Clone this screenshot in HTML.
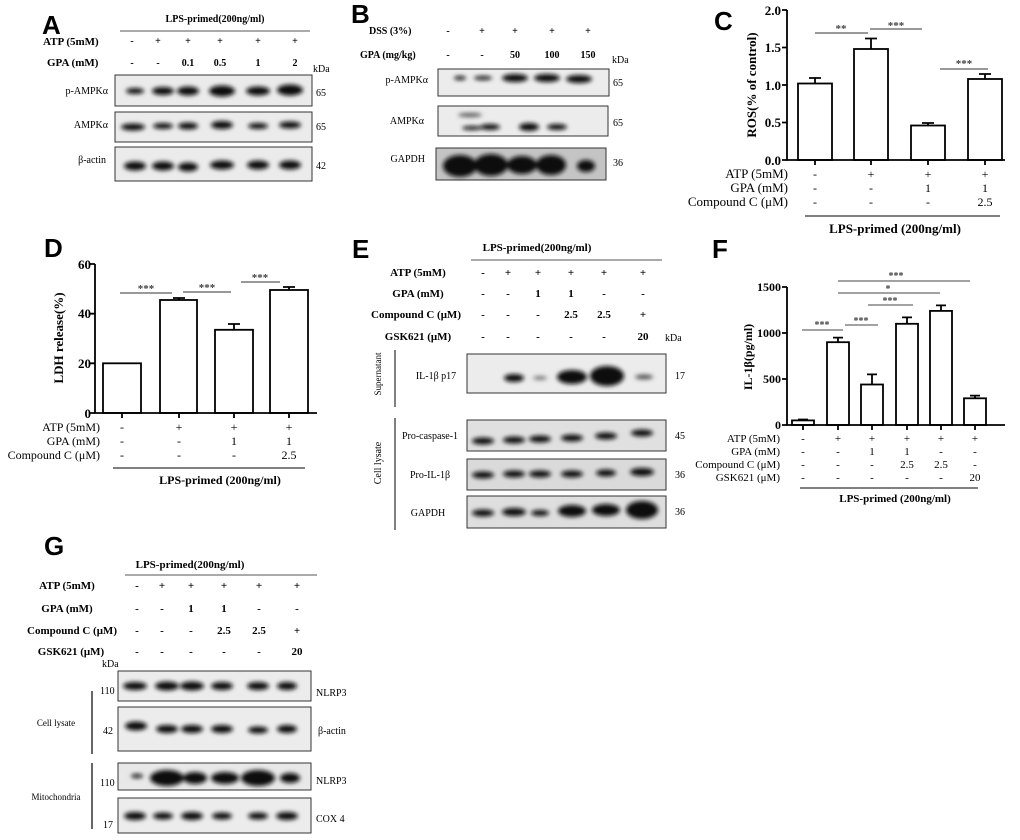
<!DOCTYPE html>
<html><head><meta charset="utf-8"><style>
html,body{margin:0;padding:0;background:#fff}
svg{display:block;font-family:"Liberation Serif",serif}
.b{font-weight:bold}
.h{font-family:"Liberation Sans",sans-serif;font-weight:bold;font-size:26px}
</style></head><body>
<svg width="1020" height="840" viewBox="0 0 1020 840" xmlns="http://www.w3.org/2000/svg">
<defs><filter id="bl" x="-50%" y="-100%" width="200%" height="300%"><feGaussianBlur stdDeviation="2"/></filter></defs>
<g fill="#000" font-size="10">
<!-- A -->
<text x="42" y="34" class="h">A</text>
<text x="215" y="22" text-anchor="middle" class="b">LPS-primed(200ng/ml)</text>
<line x1="120" y1="31" x2="310" y2="31" stroke="#555"/>
<text x="43" y="45" class="b" font-size="11">ATP (5mM)</text>
<text x="47" y="66" class="b" font-size="11">GPA (mM)</text>
<g text-anchor="middle" class="b"><text x="132" y="44">-</text><text x="158" y="44">+</text><text x="188" y="44">+</text><text x="220" y="44">+</text><text x="258" y="44">+</text><text x="295" y="44">+</text>
<text x="132" y="66">-</text><text x="158" y="66">-</text><text x="188" y="66">0.1</text><text x="220" y="66">0.5</text><text x="258" y="66">1</text><text x="295" y="66">2</text></g>
<text x="313" y="72">kDa</text>
<rect x="115" y="75" width="197" height="31" fill="#ebebeb" stroke="#333"/>
<rect x="115" y="112" width="197" height="30" fill="#ebebeb" stroke="#333"/>
<rect x="115" y="147" width="197" height="34" fill="#ebebeb" stroke="#333"/>
<g filter="url(#bl)" fill="#111">
<ellipse cx="135" cy="91" rx="9" ry="3"/><ellipse cx="163" cy="91" rx="11" ry="4"/><ellipse cx="188" cy="91" rx="11" ry="4.5"/><ellipse cx="222" cy="91" rx="13" ry="5.5"/><ellipse cx="258" cy="91" rx="12" ry="4.5"/><ellipse cx="290" cy="90" rx="13" ry="5.5"/>
<ellipse cx="133" cy="127" rx="12" ry="3.5"/><ellipse cx="163" cy="126" rx="10" ry="3"/><ellipse cx="188" cy="126" rx="10" ry="3.5"/><ellipse cx="222" cy="125" rx="11" ry="4"/><ellipse cx="258" cy="126" rx="10" ry="3"/><ellipse cx="290" cy="125" rx="11" ry="3.5"/>
<ellipse cx="135" cy="166" rx="11" ry="4.5"/><ellipse cx="163" cy="166" rx="11" ry="4.5"/><ellipse cx="188" cy="167" rx="10" ry="4.5"/><ellipse cx="222" cy="165" rx="12" ry="4.5"/><ellipse cx="258" cy="165" rx="11" ry="4.5"/><ellipse cx="290" cy="165" rx="11" ry="4.5"/></g>
<g text-anchor="end"><text x="108" y="94">p-AMPKα</text><text x="108" y="128">AMPKα</text><text x="106" y="163">β-actin</text></g>
<text x="316" y="96">65</text><text x="316" y="130">65</text><text x="316" y="169">42</text>
<!-- B -->
<text x="351" y="23" class="h">B</text>
<text x="369" y="34" class="b">DSS (3%)</text>
<text x="360" y="58" class="b">GPA (mg/kg)</text>
<g text-anchor="middle" class="b"><text x="448" y="34">-</text><text x="482" y="34">+</text><text x="515" y="34">+</text><text x="552" y="34">+</text><text x="588" y="34">+</text>
<text x="448" y="58">-</text><text x="482" y="58">-</text><text x="515" y="58">50</text><text x="552" y="58">100</text><text x="588" y="58">150</text></g>
<text x="612" y="63">kDa</text>
<rect x="438" y="69" width="171" height="27" fill="#ececec" stroke="#333"/>
<rect x="438" y="106" width="170" height="30" fill="#ececec" stroke="#333"/>
<rect x="436" y="148" width="170" height="32" fill="#c4c4c4" stroke="#333"/>
<g filter="url(#bl)" fill="#111">
<ellipse cx="460" cy="78" rx="6" ry="2"/><ellipse cx="483" cy="78" rx="9" ry="2"/><ellipse cx="515" cy="78" rx="13" ry="4"/><ellipse cx="547" cy="78" rx="13" ry="4"/><ellipse cx="579" cy="79" rx="13" ry="4"/>
<ellipse cx="470" cy="115" rx="12" ry="2" fill="#555"/><ellipse cx="472" cy="128" rx="10" ry="2"/><ellipse cx="490" cy="127" rx="10" ry="3"/><ellipse cx="529" cy="127" rx="10" ry="4"/><ellipse cx="557" cy="127" rx="10" ry="3"/>
<ellipse cx="460" cy="166" rx="17" ry="11"/><ellipse cx="491" cy="165" rx="17" ry="11"/><ellipse cx="522" cy="165" rx="15" ry="9"/><ellipse cx="551" cy="165" rx="15" ry="10"/><ellipse cx="586" cy="166" rx="9" ry="6"/></g>
<g text-anchor="end"><text x="428" y="83">p-AMPKα</text><text x="424" y="124">AMPKα</text><text x="425" y="162">GAPDH</text></g>
<text x="613" y="86">65</text><text x="613" y="126">65</text><text x="613" y="166">36</text>
<!-- C -->
<text x="714" y="30" class="h">C</text>
<g stroke="#000" fill="none" stroke-width="1.8">
<path d="M787 10V160H1005"/>
<path d="M782 10H787M782 47.5H787M782 85H787M782 122.5H787M782 160H787"/>
<path d="M815 160v5M871 160v5M928 160v5M985 160v5"/>
<rect x="798" y="83.5" width="34" height="76.5"/><rect x="854" y="49" width="34" height="111"/><rect x="911" y="125.5" width="34" height="34.5"/><rect x="968" y="79" width="34" height="81"/>
<path d="M815 83.5V78M809 78H821M871 49V38.5M865 38.5H877M928 125.5V123M922 123H934M985 79V74M979 74H991"/>
</g>
<g stroke="#333"><path d="M815 33H868M870 29H922M940 69H988"/></g>
<g text-anchor="middle" class="b" font-size="11" fill="#444"><text x="841" y="32">**</text><text x="896" y="29">***</text><text x="964" y="67">***</text></g>
<g text-anchor="end" class="b" font-size="13"><text x="781" y="15">2.0</text><text x="781" y="52">1.5</text><text x="781" y="90">1.0</text><text x="781" y="127">0.5</text><text x="781" y="165">0.0</text></g>
<text transform="translate(756 85) rotate(-90)" text-anchor="middle" class="b" font-size="13">ROS(% of control)</text>
<g text-anchor="end" font-size="13"><text x="788" y="178">ATP (5mM)</text><text x="788" y="192">GPA (mM)</text><text x="788" y="206">Compound C (μM)</text></g>
<g text-anchor="middle" font-size="12"><text x="815" y="178">-</text><text x="871" y="178">+</text><text x="928" y="178">+</text><text x="985" y="178">+</text>
<text x="815" y="192">-</text><text x="871" y="192">-</text><text x="928" y="192">1</text><text x="985" y="192">1</text>
<text x="815" y="206">-</text><text x="871" y="206">-</text><text x="928" y="206">-</text><text x="985" y="206">2.5</text></g>
<line x1="805" y1="216" x2="1000" y2="216" stroke="#000"/>
<text x="895" y="233" text-anchor="middle" class="b" font-size="13">LPS-primed (200ng/ml)</text>
<!-- D -->
<text x="44" y="257" class="h">D</text>
<g stroke="#000" fill="none" stroke-width="1.8">
<path d="M95 264V413H317"/>
<path d="M90 264H95M90 313.7H95M90 363.3H95M90 413H95"/>
<path d="M122 413v5M179 413v5M234 413v5M289 413v5"/>
<rect x="103" y="363.3" width="38" height="49.7"/><rect x="160" y="300" width="37" height="113"/><rect x="215" y="329.8" width="38" height="83.2"/><rect x="270" y="290" width="38" height="123"/>
<path d="M179 300V298M173 298H185M234 329.8V324M228 324H240M289 290V287M283 287H295"/>
</g>
<g stroke="#333"><path d="M120 293H172M183 292H231M241 282H280"/></g>
<g text-anchor="middle" class="b" font-size="11" fill="#444"><text x="146" y="292">***</text><text x="207" y="291">***</text><text x="260" y="281">***</text></g>
<g text-anchor="end" class="b" font-size="13"><text x="91" y="269">60</text><text x="91" y="318">40</text><text x="91" y="368">20</text><text x="91" y="418">0</text></g>
<text transform="translate(63 338) rotate(-90)" text-anchor="middle" class="b" font-size="13">LDH release(%)</text>
<g text-anchor="end" font-size="12"><text x="100" y="431">ATP (5mM)</text><text x="100" y="445">GPA (mM)</text><text x="100" y="459">Compound C (μM)</text></g>
<g text-anchor="middle" font-size="12"><text x="122" y="431">-</text><text x="179" y="431">+</text><text x="234" y="431">+</text><text x="289" y="431">+</text>
<text x="122" y="445">-</text><text x="179" y="445">-</text><text x="234" y="445">1</text><text x="289" y="445">1</text>
<text x="122" y="459">-</text><text x="179" y="459">-</text><text x="234" y="459">-</text><text x="289" y="459">2.5</text></g>
<line x1="113" y1="468" x2="305" y2="468" stroke="#000"/>
<text x="220" y="484" text-anchor="middle" class="b" font-size="12">LPS-primed (200ng/ml)</text>
<!-- E -->
<text x="352" y="258" class="h">E</text>
<text x="537" y="251" text-anchor="middle" class="b" font-size="11">LPS-primed(200ng/ml)</text>
<line x1="471" y1="260" x2="662" y2="260" stroke="#555"/>
<g class="b" text-anchor="middle" font-size="11"><text x="418" y="276">ATP (5mM)</text><text x="418" y="297">GPA (mM)</text><text x="416" y="318">Compound C (μM)</text><text x="418" y="340">GSK621 (μM)</text></g>
<g text-anchor="middle" class="b" font-size="11"><text x="483" y="276">-</text><text x="508" y="276">+</text><text x="538" y="276">+</text><text x="571" y="276">+</text><text x="604" y="276">+</text><text x="643" y="276">+</text>
<text x="483" y="297">-</text><text x="508" y="297">-</text><text x="538" y="297">1</text><text x="571" y="297">1</text><text x="604" y="297">-</text><text x="643" y="297">-</text>
<text x="483" y="318">-</text><text x="508" y="318">-</text><text x="538" y="318">-</text><text x="571" y="318">2.5</text><text x="604" y="318">2.5</text><text x="643" y="318">+</text>
<text x="483" y="340">-</text><text x="508" y="340">-</text><text x="538" y="340">-</text><text x="571" y="340">-</text><text x="604" y="340">-</text><text x="643" y="340">20</text></g>
<text x="665" y="341">kDa</text>
<rect x="467" y="354" width="199" height="39" fill="#ececec" stroke="#333"/>
<rect x="467" y="420" width="199" height="31" fill="#e0e0e0" stroke="#333"/>
<rect x="467" y="459" width="199" height="31" fill="#dadada" stroke="#333"/>
<rect x="467" y="496" width="199" height="32" fill="#dedede" stroke="#333"/>
<g filter="url(#bl)" fill="#111">
<ellipse cx="514" cy="378" rx="10" ry="4"/><ellipse cx="540" cy="378" rx="7" ry="2" fill="#777"/><ellipse cx="572" cy="377" rx="15" ry="7"/><ellipse cx="607" cy="376" rx="17" ry="10"/><ellipse cx="644" cy="377" rx="9" ry="2.5" fill="#555"/>
<ellipse cx="483" cy="441" rx="11" ry="3.5"/><ellipse cx="514" cy="440" rx="11" ry="3.5"/><ellipse cx="540" cy="439" rx="11" ry="3.5"/><ellipse cx="572" cy="438" rx="11" ry="3.5"/><ellipse cx="606" cy="436" rx="11" ry="3.5"/><ellipse cx="642" cy="433" rx="11" ry="3.5"/>
<ellipse cx="483" cy="475" rx="11" ry="3.5"/><ellipse cx="514" cy="474" rx="11" ry="3.5"/><ellipse cx="540" cy="474" rx="11" ry="3.5"/><ellipse cx="572" cy="474" rx="11" ry="3.5"/><ellipse cx="606" cy="473" rx="10" ry="3.5"/><ellipse cx="642" cy="472" rx="12" ry="4"/>
<ellipse cx="483" cy="513" rx="11" ry="3.5"/><ellipse cx="514" cy="512" rx="12" ry="4"/><ellipse cx="540" cy="513" rx="9" ry="3"/><ellipse cx="572" cy="511" rx="14" ry="6"/><ellipse cx="606" cy="510" rx="14" ry="6"/><ellipse cx="642" cy="510" rx="16" ry="9"/></g>
<g text-anchor="middle"><text x="436" y="379">IL-1β p17</text><text x="430" y="439">Pro-caspase-1</text><text x="430" y="478">Pro-IL-1β</text><text x="428" y="516">GAPDH</text></g>
<text x="675" y="379">17</text><text x="675" y="439">45</text><text x="675" y="478">36</text><text x="675" y="515">36</text>
<line x1="395" y1="350" x2="395" y2="407" stroke="#555" stroke-width="1.5"/><line x1="395" y1="418" x2="395" y2="530" stroke="#555" stroke-width="1.5"/>
<text transform="translate(381 374) rotate(-90)" text-anchor="middle" font-size="9">Supernatant</text>
<text transform="translate(381 463) rotate(-90)" text-anchor="middle" font-size="10">Cell lysate</text>
<!-- F -->
<text x="712" y="258" class="h">F</text>
<g stroke="#000" fill="none" stroke-width="1.8">
<path d="M787 287V425H1005"/>
<path d="M782 287H787M782 333H787M782 379H787M782 425H787"/>
<path d="M803 425v5M838 425v5M872 425v5M907 425v5M941 425v5M975 425v5"/>
<rect x="792" y="420.4" width="22" height="4.6"/><rect x="827" y="342.2" width="22" height="82.8"/><rect x="861" y="384.5" width="22" height="40.5"/><rect x="896" y="323.8" width="22" height="101.2"/><rect x="930" y="310.9" width="22" height="114.1"/><rect x="964" y="398.3" width="22" height="26.7"/>
<path d="M803 420.4V419.5M798 419.5H808M838 342.2V337.6M833 337.6H843M872 384.5V374.4M867 374.4H877M907 323.8V317.4M902 317.4H912M941 310.9V305.4M936 305.4H946M975 398.3V395.6M970 395.6H980"/>
</g>
<g stroke="#444"><path d="M802 330H843M845 325H878M868 305H913M838 293H940M838 281H970"/></g>
<g text-anchor="middle" class="b" font-size="10" fill="#444"><text x="822" y="328">***</text><text x="861" y="324">***</text><text x="890" y="304">***</text><text x="888" y="292">*</text><text x="896" y="279">***</text></g>
<g text-anchor="end" class="b" font-size="12"><text x="781" y="291">1500</text><text x="781" y="337">1000</text><text x="781" y="383">500</text><text x="781" y="429">0</text></g>
<text transform="translate(752 357) rotate(-90)" text-anchor="middle" class="b" font-size="12">IL-1β(pg/ml)</text>
<g text-anchor="end" font-size="11"><text x="780" y="442">ATP (5mM)</text><text x="780" y="455">GPA (mM)</text><text x="780" y="468">Compound C (μM)</text><text x="780" y="481">GSK621 (μM)</text></g>
<g text-anchor="middle" font-size="11"><text x="803" y="442">-</text><text x="838" y="442">+</text><text x="872" y="442">+</text><text x="907" y="442">+</text><text x="941" y="442">+</text><text x="975" y="442">+</text>
<text x="803" y="455">-</text><text x="838" y="455">-</text><text x="872" y="455">1</text><text x="907" y="455">1</text><text x="941" y="455">-</text><text x="975" y="455">-</text>
<text x="803" y="468">-</text><text x="838" y="468">-</text><text x="872" y="468">-</text><text x="907" y="468">2.5</text><text x="941" y="468">2.5</text><text x="975" y="468">-</text>
<text x="803" y="481">-</text><text x="838" y="481">-</text><text x="872" y="481">-</text><text x="907" y="481">-</text><text x="941" y="481">-</text><text x="975" y="481">20</text></g>
<line x1="800" y1="488" x2="978" y2="488" stroke="#000"/>
<text x="895" y="502" text-anchor="middle" class="b" font-size="11">LPS-primed (200ng/ml)</text>
<!-- G -->
<text x="44" y="555" class="h">G</text>
<text x="190" y="568" text-anchor="middle" class="b" font-size="11">LPS-primed(200ng/ml)</text>
<line x1="125" y1="575" x2="317" y2="575" stroke="#555"/>
<g class="b" text-anchor="middle" font-size="11"><text x="67" y="589">ATP (5mM)</text><text x="67" y="612">GPA (mM)</text><text x="72" y="634">Compound C (μM)</text><text x="71" y="655">GSK621 (μM)</text></g>
<g text-anchor="middle" class="b" font-size="11"><text x="137" y="589">-</text><text x="162" y="589">+</text><text x="191" y="589">+</text><text x="224" y="589">+</text><text x="259" y="589">+</text><text x="297" y="589">+</text>
<text x="137" y="612">-</text><text x="162" y="612">-</text><text x="191" y="612">1</text><text x="224" y="612">1</text><text x="259" y="612">-</text><text x="297" y="612">-</text>
<text x="137" y="634">-</text><text x="162" y="634">-</text><text x="191" y="634">-</text><text x="224" y="634">2.5</text><text x="259" y="634">2.5</text><text x="297" y="634">+</text>
<text x="137" y="655">-</text><text x="162" y="655">-</text><text x="191" y="655">-</text><text x="224" y="655">-</text><text x="259" y="655">-</text><text x="297" y="655">20</text></g>
<text x="102" y="667">kDa</text>
<rect x="118" y="671" width="193" height="30" fill="#ececec" stroke="#333"/>
<rect x="118" y="707" width="193" height="44" fill="#ececec" stroke="#333"/>
<rect x="118" y="763" width="193" height="27" fill="#e8e8e8" stroke="#333"/>
<rect x="118" y="798" width="193" height="35" fill="#ececec" stroke="#333"/>
<g filter="url(#bl)" fill="#111">
<ellipse cx="135" cy="686" rx="12" ry="4"/><ellipse cx="167" cy="686" rx="12" ry="4.5"/><ellipse cx="192" cy="686" rx="12" ry="4.5"/><ellipse cx="222" cy="686" rx="11" ry="4"/><ellipse cx="258" cy="686" rx="11" ry="4"/><ellipse cx="287" cy="686" rx="10" ry="4"/>
<ellipse cx="136" cy="726" rx="11" ry="4.5"/><ellipse cx="167" cy="729" rx="11" ry="4"/><ellipse cx="192" cy="729" rx="11" ry="4"/><ellipse cx="222" cy="729" rx="11" ry="4"/><ellipse cx="258" cy="730" rx="10" ry="3.5"/><ellipse cx="287" cy="729" rx="10" ry="4"/>
<ellipse cx="137" cy="776" rx="6" ry="2"/><ellipse cx="167" cy="778" rx="17" ry="8"/><ellipse cx="195" cy="778" rx="12" ry="6"/><ellipse cx="225" cy="778" rx="14" ry="6"/><ellipse cx="258" cy="778" rx="17" ry="8"/><ellipse cx="290" cy="778" rx="10" ry="5"/>
<ellipse cx="135" cy="816" rx="11" ry="4"/><ellipse cx="163" cy="816" rx="10" ry="3.5"/><ellipse cx="192" cy="816" rx="11" ry="4"/><ellipse cx="222" cy="816" rx="10" ry="3.5"/><ellipse cx="258" cy="816" rx="10" ry="3.5"/><ellipse cx="287" cy="816" rx="11" ry="4"/></g>
<text x="316" y="696">NLRP3</text><text x="318" y="734">β-actin</text><text x="316" y="784">NLRP3</text><text x="316" y="822">COX 4</text>
<text x="100" y="694">110</text><text x="103" y="734">42</text><text x="100" y="786">110</text><text x="103" y="828">17</text>
<line x1="92" y1="691" x2="92" y2="754" stroke="#333" stroke-width="1.5"/><line x1="92" y1="763" x2="92" y2="829" stroke="#333" stroke-width="1.5"/>
<text x="56" y="726" font-size="9" text-anchor="middle">Cell lysate</text>
<text x="56" y="800" font-size="9" text-anchor="middle">Mitochondria</text>
</g>
</svg>
</body></html>
